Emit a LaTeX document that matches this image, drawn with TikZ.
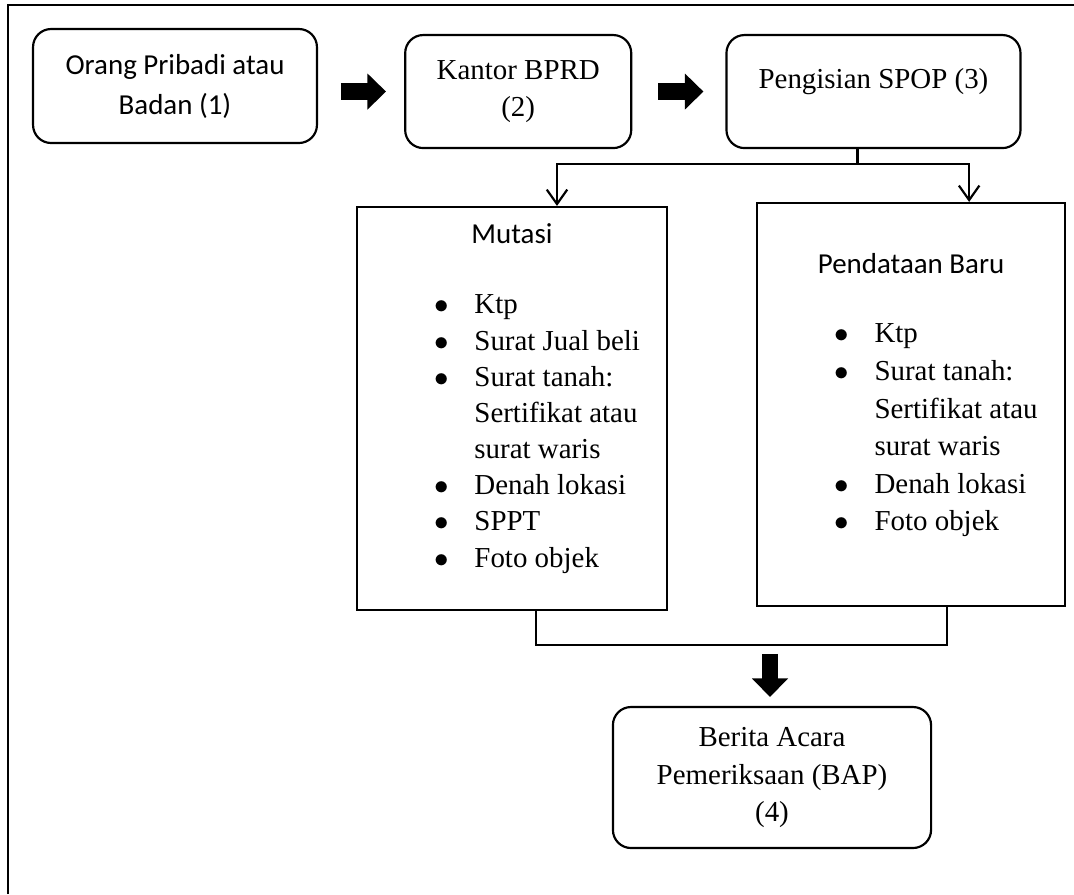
\documentclass[tikz,border=0pt]{standalone}
\usepackage{fontspec}
\setmainfont{Liberation Serif}
\newfontfamily\calibri{Carlito}
\usetikzlibrary{arrows.meta,positioning,calc}

\newcommand{\bul}{\makebox[16.6pt][l]{$\bullet$}}
\newcommand{\indt}{\hspace*{16.6pt}}

\begin{document}
\begin{tikzpicture}[
  x=0.4149pt, y=-0.4149pt,
  rbox/.style={draw, line width=0.9pt, rounded corners=7.5pt, align=center, inner sep=0pt,
    font=\fontsize{12}{15.4}\selectfont},
  sbox/.style={draw, line width=0.9pt, inner sep=0pt},
  head/.style={font=\calibri\fontsize{12}{14.4}\selectfont, inner sep=0pt},
  list/.style={font=\fontsize{12}{15}\selectfont, inner sep=0pt},
  link/.style={line width=0.9pt, -{Straight Barb[length=6pt,width=8.5pt]}},
  fat/.style={line width=7pt, -{Triangle[length=7.7pt,width=14.5pt]}}
]
  \useasboundingbox (0,0) rectangle (1074,894);
  \draw[line width=1.2pt] (8,894) -- (8,5) -- (1074,5);

  % Top row
  \node[rbox, minimum width=117.8pt, minimum height=47.3pt,
    font=\calibri\fontsize{12}{16.6}\selectfont] (orang) at (175,86) {Orang Pribadi atau\\Badan (1)};
  \node[rbox, minimum width=93.8pt, minimum height=46.9pt, right=35.7pt of orang, yshift=-2.3pt] (bprd) {Kantor BPRD\\(2)};
  \node[rbox, minimum width=122pt, minimum height=46.9pt, text depth=11.2pt, right=38.6pt of bprd] (spop) {Pengisian SPOP (3)};

  % Requirement boxes
  \node[sbox, minimum width=128.6pt, minimum height=167.2pt] (mutasi) at (512,408.5) {};
  \node[sbox, minimum width=127.8pt, minimum height=167.2pt, right=36.5pt of mutasi, yshift=1.66pt] (baru) {};
  \node[head, anchor=base] (mutasiT) at ($(mutasi.north)+(0,38)$) {Mutasi};
  \node[head, anchor=base] (baruT) at ($(baru.north)+(0,72)$) {Pendataan Baru};
  \node[list, anchor=base west] (mutasiL) at ($(mutasi.north west)+(78,108)$) {%
    \begin{tabular}[t]{@{}l@{}}
      \bul Ktp\\
      \bul Surat Jual beli\\
      \bul Surat tanah:\\
      \indt Sertifikat atau\\
      \indt surat waris\\
      \bul Denah lokasi\\
      \bul SPPT\\
      \bul Foto objek
    \end{tabular}};
  \node[list, anchor=base west, font=\fontsize{12}{15.6}\selectfont] (baruL) at ($(baru.north west)+(78,141)$) {%
    \begin{tabular}[t]{@{}l@{}}
      \bul Ktp\\
      \bul Surat tanah:\\
      \indt Sertifikat atau\\
      \indt surat waris\\
      \bul Denah lokasi\\
      \bul Foto objek
    \end{tabular}};

  % Result
  \node[rbox, minimum width=132pt, minimum height=58.5pt] (bap) at (772,777.5) {Berita Acara\\Pemeriksaan (BAP)\\(4)};

  % Flows
  \draw[fat, shorten <=9.5pt, shorten >=7.5pt] (orang.east |- bprd.west) -- (bprd.west);
  \draw[fat, shorten <=10.8pt, shorten >=9.1pt] (bprd.east) -- (spop.west);

  \coordinate (split) at ($(spop.south)+(-16,0)$);
  \coordinate (fork) at ($(split)+(0,15)$);
  \draw[line width=0.9pt] (split) -- (fork);
  \draw[link] (fork) -| ($(mutasi.north)+(45,0)$);
  \draw[link] (fork) -| ($(baru.north)+(58,0)$);

  \coordinate (mergeL) at ($(mutasi.south)+(24,0)$);
  \coordinate (mergeR) at ($(baru.south)+(36,0)$);
  \coordinate (merge) at ($(bap.north)+(-2,-61)$);
  \draw[line width=0.9pt] (mergeL) |- (merge) -| (mergeR);
  \draw[fat, shorten <=3.7pt, shorten >=3.7pt] (merge) -- (merge |- bap.north);
\end{tikzpicture}
\end{document}
